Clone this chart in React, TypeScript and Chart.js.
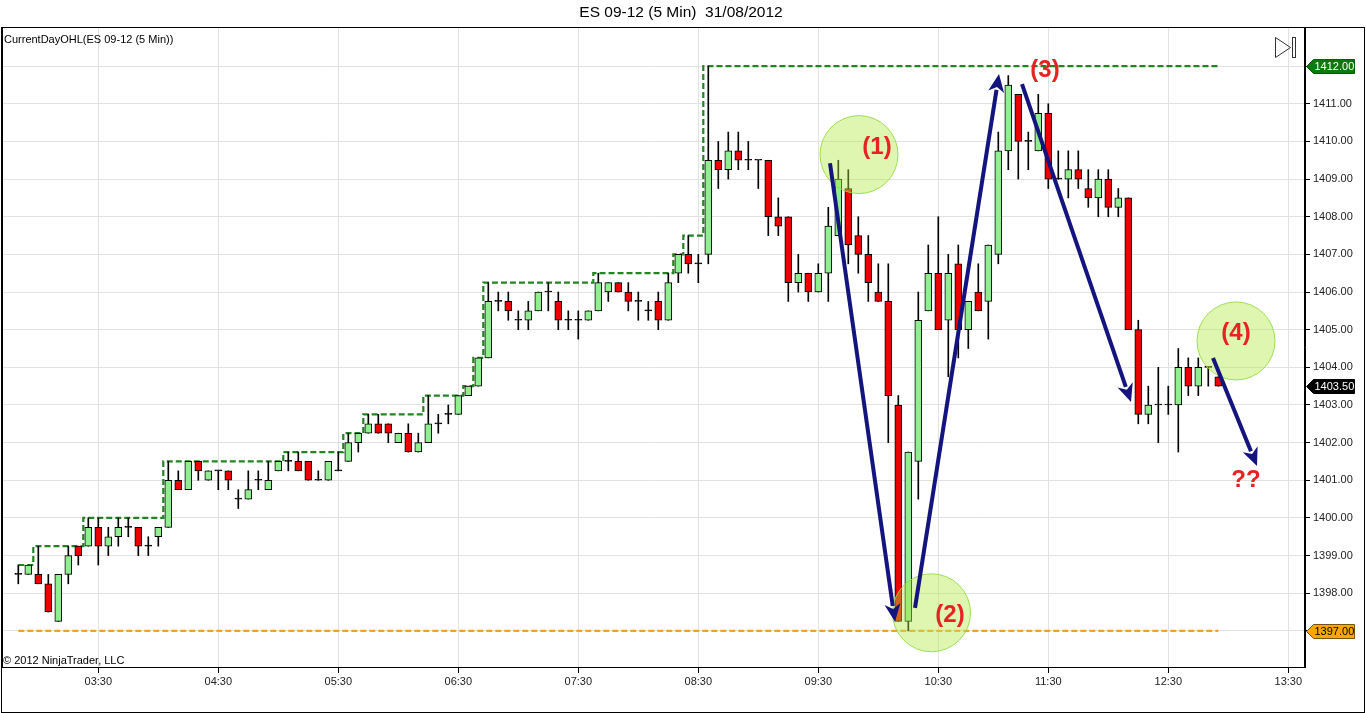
import React, { useEffect, useRef } from 'react';
import { Chart, registerables } from 'chart.js';

Chart.register(...registerables);

// ---- data (5-minute bars, ES 09-12, 31/08/2012, first bar 02:50) ----
const opens = [
  1398.5, 1398.5, 1398.5, 1398.25, 1397.25, 1398.5, 1399.25, 1399.25, 1399.75, 1399.25,
  1399.5, 1399.75, 1399.75, 1399.25, 1399.5, 1399.75, 1401.0, 1400.75, 1401.5, 1401.0,
  1401.25, 1401.25, 1400.5, 1400.5, 1401.0, 1400.75, 1401.25, 1401.5, 1401.5, 1401.5,
  1401.0, 1401.0, 1401.25, 1401.5, 1402.0, 1402.25, 1402.5, 1402.5, 1402.0, 1402.25,
  1401.75, 1402.0, 1402.5, 1402.75, 1402.75, 1403.25, 1403.5, 1404.25, 1405.75, 1405.75,
  1405.25, 1405.25, 1405.5, 1406.0, 1405.75, 1405.25, 1405.25, 1405.25, 1405.5, 1406.0,
  1406.25, 1406.0, 1405.75, 1405.5, 1405.75, 1405.25, 1406.5, 1407.0, 1406.75, 1407.0,
  1409.5, 1409.25, 1409.75, 1409.5, 1409.5, 1409.5, 1408.0, 1408.0, 1406.25, 1406.5,
  1406.0, 1406.5, 1407.5, 1408.75, 1407.5, 1407.0, 1406.0, 1405.75, 1403.0, 1397.25,
  1401.5, 1405.5, 1406.5, 1405.25, 1406.75, 1405.0, 1406.0, 1405.75, 1407.0, 1409.75,
  1411.25, 1410.0, 1409.75, 1410.75, 1409.0, 1409.0, 1409.25, 1408.75, 1408.5, 1409.0,
  1408.25, 1408.5, 1405.0, 1402.75, 1403.0, 1403.0, 1403.0, 1404.0, 1403.5, 1404.0,
  1403.75,
];
const highs = [
  1398.75, 1398.75, 1399.25, 1398.5, 1398.5, 1399.25, 1399.25, 1400.0, 1400.0, 1399.75,
  1400.0, 1400.0, 1399.75, 1399.5, 1399.75, 1401.5, 1401.25, 1401.5, 1401.5, 1401.25,
  1401.25, 1401.25, 1400.75, 1401.25, 1401.25, 1401.5, 1401.5, 1401.75, 1401.75, 1401.5,
  1401.25, 1401.5, 1401.75, 1402.25, 1402.25, 1402.75, 1402.75, 1402.5, 1402.25, 1402.5,
  1402.25, 1403.25, 1402.75, 1403.0, 1403.25, 1403.5, 1404.25, 1406.25, 1406.0, 1406.0,
  1405.5, 1405.75, 1406.0, 1406.25, 1406.0, 1405.5, 1405.5, 1405.5, 1406.5, 1406.25,
  1406.25, 1406.25, 1406.0, 1405.75, 1406.0, 1406.5, 1407.0, 1407.5, 1407.0, 1412.0,
  1410.0, 1410.25, 1410.25, 1410.0, 1409.5, 1409.5, 1408.5, 1408.0, 1407.0, 1406.5,
  1406.75, 1408.25, 1409.5, 1409.25, 1408.0, 1407.5, 1406.75, 1406.75, 1403.25, 1401.75,
  1406.0, 1407.25, 1408.0, 1407.0, 1407.25, 1405.75, 1406.75, 1407.25, 1410.25, 1411.75,
  1411.25, 1410.25, 1411.25, 1411.0, 1409.75, 1409.75, 1409.75, 1409.25, 1409.25, 1409.25,
  1408.75, 1408.5, 1405.25, 1403.5, 1404.0, 1403.5, 1404.5, 1404.25, 1404.25, 1404.0,
  1403.75,
];
const lows = [
  1398.25, 1398.5, 1398.25, 1397.5, 1397.25, 1398.25, 1398.75, 1399.25, 1398.75, 1399.0,
  1399.25, 1399.5, 1399.0, 1399.0, 1399.25, 1399.75, 1400.75, 1400.75, 1401.0, 1401.0,
  1400.75, 1400.75, 1400.25, 1400.5, 1400.75, 1400.75, 1401.25, 1401.25, 1401.25, 1401.0,
  1401.0, 1401.0, 1401.25, 1401.5, 1401.75, 1402.25, 1402.25, 1402.0, 1402.0, 1401.75,
  1401.75, 1402.0, 1402.25, 1402.5, 1402.75, 1403.25, 1403.5, 1404.25, 1405.5, 1405.25,
  1405.0, 1405.0, 1405.5, 1405.5, 1405.0, 1405.0, 1404.75, 1405.25, 1405.5, 1405.75,
  1406.0, 1405.5, 1405.25, 1405.25, 1405.0, 1405.25, 1406.25, 1406.5, 1406.25, 1406.75,
  1408.75, 1409.0, 1409.25, 1409.25, 1408.75, 1407.5, 1407.5, 1405.75, 1406.0, 1405.75,
  1406.0, 1405.75, 1407.5, 1406.75, 1406.5, 1405.75, 1405.75, 1402.0, 1397.25, 1397.0,
  1400.5, 1405.5, 1405.0, 1403.75, 1404.25, 1404.5, 1405.5, 1404.75, 1406.75, 1409.25,
  1409.0, 1409.25, 1409.75, 1408.75, 1409.0, 1408.5, 1408.75, 1408.25, 1408.0, 1408.0,
  1408.0, 1405.0, 1402.5, 1402.5, 1402.0, 1402.75, 1401.75, 1403.25, 1403.25, 1403.5,
  1403.5,
];
const closes = [
  1398.5, 1398.75, 1398.25, 1397.5, 1398.5, 1399.0, 1399.0, 1399.75, 1399.25, 1399.5,
  1399.75, 1399.75, 1399.25, 1399.25, 1399.75, 1401.0, 1400.75, 1401.5, 1401.25, 1401.25,
  1401.25, 1401.0, 1400.5, 1400.75, 1401.0, 1401.0, 1401.5, 1401.5, 1401.25, 1401.0,
  1401.0, 1401.5, 1401.25, 1402.0, 1402.25, 1402.5, 1402.25, 1402.25, 1402.25, 1401.75,
  1402.0, 1402.5, 1402.5, 1402.75, 1403.25, 1403.5, 1404.25, 1405.75, 1405.75, 1405.5,
  1405.25, 1405.5, 1406.0, 1406.0, 1405.25, 1405.25, 1405.25, 1405.5, 1406.25, 1406.25,
  1406.0, 1405.75, 1405.75, 1405.5, 1405.25, 1406.25, 1407.0, 1406.75, 1406.75, 1409.5,
  1409.25, 1409.75, 1409.5, 1409.5, 1409.5, 1408.0, 1407.75, 1406.25, 1406.5, 1406.0,
  1406.5, 1407.75, 1409.0, 1407.25, 1407.0, 1406.25, 1405.75, 1403.25, 1397.25, 1401.75,
  1405.25, 1406.5, 1405.0, 1406.5, 1405.0, 1405.75, 1405.5, 1407.25, 1409.75, 1411.5,
  1410.0, 1410.0, 1410.75, 1409.0, 1409.0, 1409.25, 1409.0, 1408.5, 1409.0, 1408.25,
  1408.5, 1405.0, 1402.75, 1403.0, 1403.0, 1403.0, 1404.0, 1403.5, 1404.0, 1404.0,
  1403.5,
];
const dayLow = 1397;

const timeTickIndex = [8, 20, 32, 44, 56, 68, 80, 92, 103, 115, 127];
const timeTickLabels = ['03:30', '04:30', '05:30', '06:30', '07:30', '08:30', '09:30', '10:30', '11:30', '12:30', '13:30'];
const priceTicks = [1397, 1398, 1399, 1400, 1401, 1402, 1403, 1404, 1405, 1406, 1407, 1408, 1409, 1410, 1411, 1412];

// annotations in data space: [bar index, price]
const circleCenters = [
  [84.07, 1409.65],
  [91.32, 1397.48],
  [121.77, 1404.7],
];
const arrowFrom = [
  [81.17, 1409.42],
  [89.67, 1397.61],
  [100.37, 1411.52],
  [119.47, 1404.25],
];
const arrowTo = [
  [87.67, 1397.24],
  [98.07, 1411.79],
  [111.27, 1403.08],
  [123.87, 1401.38],
];
const noteTexts = ['(1)', '(2)', '(3)', '(4)', '??'];
const notePos = [
  [85.87, 1409.85],
  [93.17, 1397.4],
  [102.67, 1411.89],
  [121.77, 1404.91],
  [122.77, 1401.01],
];

const FONT = '"Liberation Sans", Arial, sans-serif';

const decorPlugin = {
  id: 'decor',
  beforeDraw(chart: any) {
    const { ctx, width, height } = chart;
    ctx.save();
    ctx.fillStyle = '#ffffff';
    ctx.fillRect(0, 0, width, height);
    ctx.restore();
  },
  afterDatasetsDraw(chart: any) {
    const { ctx } = chart;
    const xs = chart.scales.x;
    const ys = chart.scales.y;
    ctx.save();
    circleCenters.forEach(([i, p]) => {
      ctx.beginPath();
      ctx.arc(xs.getPixelForValue(i), ys.getPixelForValue(p), 39, 0, Math.PI * 2);
      ctx.fillStyle = 'rgba(177,233,66,0.42)';
      ctx.fill();
      ctx.lineWidth = 1;
      ctx.strokeStyle = 'rgba(150,220,70,0.9)';
      ctx.stroke();
    });
    arrowFrom.forEach((f, k) => {
      const t = arrowTo[k];
      const x1 = xs.getPixelForValue(f[0]);
      const y1 = ys.getPixelForValue(f[1]);
      const x2 = xs.getPixelForValue(t[0]);
      const y2 = ys.getPixelForValue(t[1]);
      const ang = Math.atan2(y2 - y1, x2 - x1);
      const headLen = 18;
      const headW = 8;
      const bx = x2 - Math.cos(ang) * (headLen - 2);
      const by = y2 - Math.sin(ang) * (headLen - 2);
      ctx.strokeStyle = '#14147e';
      ctx.fillStyle = '#14147e';
      ctx.lineWidth = 4;
      ctx.lineCap = 'butt';
      ctx.beginPath();
      ctx.moveTo(x1, y1);
      ctx.lineTo(bx, by);
      ctx.stroke();
      const hx = x2 - Math.cos(ang) * headLen;
      const hy = y2 - Math.sin(ang) * headLen;
      ctx.beginPath();
      ctx.moveTo(x2, y2);
      ctx.lineTo(hx + Math.sin(ang) * headW, hy - Math.cos(ang) * headW);
      ctx.lineTo(x2 - Math.cos(ang) * (headLen - 5), y2 - Math.sin(ang) * (headLen - 5));
      ctx.lineTo(hx - Math.sin(ang) * headW, hy + Math.cos(ang) * headW);
      ctx.closePath();
      ctx.fill();
    });
    ctx.fillStyle = '#e82222';
    ctx.font = `bold 24px ${FONT}`;
    ctx.textAlign = 'center';
    ctx.textBaseline = 'middle';
    noteTexts.forEach((s, k) => {
      ctx.fillText(s, xs.getPixelForValue(notePos[k][0]), ys.getPixelForValue(notePos[k][1]));
    });
    ctx.restore();
  },
  afterDraw(chart: any) {
    const { ctx, chartArea } = chart;
    const ys = chart.scales.y;
    ctx.save();
    ctx.strokeStyle = '#000';
    ctx.lineWidth = 1;
    ctx.strokeRect(1.5, 27.5, 1363, 685);
    ctx.strokeRect(chartArea.left + 0.5, chartArea.top + 0.5, chartArea.right - chartArea.left - 1, chartArea.bottom - chartArea.top);
    ctx.fillStyle = '#000';
    ctx.font = `15.5px ${FONT}`;
    ctx.textAlign = 'center';
    ctx.textBaseline = 'middle';
    ctx.fillText('ES 09-12 (5 Min)  31/08/2012', 681, 13);
    ctx.font = `11px ${FONT}`;
    ctx.textAlign = 'left';
    ctx.fillText('CurrentDayOHL(ES 09-12 (5 Min))', 4, 40);
    ctx.fillText('\u00A9 2012 NinjaTrader, LLC', 3, 661);
    ctx.strokeStyle = '#333';
    ctx.beginPath();
    ctx.moveTo(1275.5, 37.5);
    ctx.lineTo(1290.5, 47.5);
    ctx.lineTo(1275.5, 57.5);
    ctx.closePath();
    ctx.stroke();
    ctx.strokeRect(1292.5, 37.5, 3, 20);
    const marker = (v: number, fill: string, textColor: string, stroke: string) => {
      const yp = Math.round(ys.getPixelForValue(v)) + 0.5;
      const l = chartArea.right + 1.5;
      ctx.beginPath();
      ctx.moveTo(l, yp);
      ctx.lineTo(l + 7, yp - 7);
      ctx.lineTo(l + 48, yp - 7);
      ctx.lineTo(l + 48, yp + 7);
      ctx.lineTo(l + 7, yp + 7);
      ctx.closePath();
      ctx.fillStyle = fill;
      ctx.fill();
      ctx.strokeStyle = stroke;
      ctx.lineWidth = 1;
      ctx.stroke();
      ctx.fillStyle = textColor;
      ctx.font = `11px ${FONT}`;
      ctx.textAlign = 'left';
      ctx.textBaseline = 'middle';
      ctx.fillText(v.toFixed(2), l + 8, yp + 0.5);
    };
    marker(Math.max(...highs), '#0b7a0b', '#ffffff', '#0b5a0b');
    marker(closes[closes.length - 1], '#000000', '#ffffff', '#000000');
    marker(dayLow, '#ffa500', '#000000', '#7a5200');
    ctx.restore();
  },
};

export default function App() {
  const ref = useRef<HTMLCanvasElement | null>(null);
  useEffect(() => {
    document.body.style.margin = '0';
    if (!ref.current) return;
    const idx = opens.map((_, i) => i);
    let runMax = -Infinity;
    const dayHigh = highs.map((h) => (runMax = Math.max(runMax, h)));
    const bodyColors = idx.map((i) =>
      closes[i] > opens[i] ? '#90ee90' : closes[i] < opens[i] ? '#ec0000' : '#000000'
    );
    const chart = new Chart(ref.current, {
      type: 'bar',
      data: {
        datasets: [
          {
            type: 'line',
            data: idx.map((i) => ({ x: i, y: dayHigh[i] })),
            borderColor: '#228422',
            borderWidth: 2.2,
            borderDash: [6, 3],
            stepped: 'middle',
            pointRadius: 0,
            order: 3,
          } as any,
          {
            type: 'line',
            data: idx.map((i) => ({ x: i, y: dayLow })),
            borderColor: '#ffa020',
            borderWidth: 2.2,
            borderDash: [6, 3],
            pointRadius: 0,
            order: 3,
          } as any,
          {
            type: 'bar',
            data: idx.map((i) => ({ x: i, y: [lows[i], highs[i]] })),
            backgroundColor: '#000000',
            barThickness: 1,
            grouped: false,
            order: 2,
          } as any,
          {
            type: 'bar',
            data: idx.map((i) => ({ x: i, y: [opens[i], closes[i]] })),
            backgroundColor: bodyColors,
            borderColor: '#000000',
            borderWidth: 1,
            borderSkipped: false,
            barThickness: 7,
            minBarLength: 1,
            grouped: false,
            order: 1,
          } as any,
        ],
      },
      options: {
        animation: false,
        responsive: false,
        maintainAspectRatio: false,
        layout: { padding: { left: 2, top: 27, right: 0, bottom: 0 } },
        plugins: { legend: { display: false }, tooltip: { enabled: false }, title: { display: false } },
        scales: {
          x: {
            type: 'linear',
            offset: false,
            min: -1.63,
            max: 128.67,
            grid: { color: '#e2e2e2', tickColor: '#000', tickLength: 6, offset: false },
            border: { display: true, color: '#000' },
            afterBuildTicks: (s: any) => {
              s.ticks = timeTickIndex.map((v) => ({ value: v }));
            },
            afterFit: (s: any) => {
              s.height = 46;
            },
            ticks: {
              autoSkip: false,
              maxRotation: 0,
              padding: 2,
              color: '#222',
              font: { family: FONT, size: 11 },
              callback: (_v: any, i: number) => timeTickLabels[i],
            },
          },
          y: {
            type: 'linear',
            position: 'right',
            min: 1396.04,
            max: 1413.04,
            beginAtZero: false,
            grid: { color: '#e2e2e2', tickColor: '#000', tickLength: 5 },
            border: { display: true, color: '#000' },
            afterBuildTicks: (s: any) => {
              s.ticks = priceTicks.map((v) => ({ value: v }));
            },
            afterFit: (s: any) => {
              s.width = 61;
            },
            ticks: {
              padding: 3,
              color: '#222',
              font: { family: FONT, size: 11 },
              callback: (v: any) => Number(v).toFixed(2),
            },
          },
        },
      } as any,
      plugins: [decorPlugin],
    });
    return () => chart.destroy();
  }, []);
  return (
    <div style={{ position: 'fixed', left: 0, top: 0, width: 1366, height: 713, background: '#fff' }}>
      <canvas ref={ref} width={1366} height={713} style={{ display: 'block' }} />
    </div>
  );
}
